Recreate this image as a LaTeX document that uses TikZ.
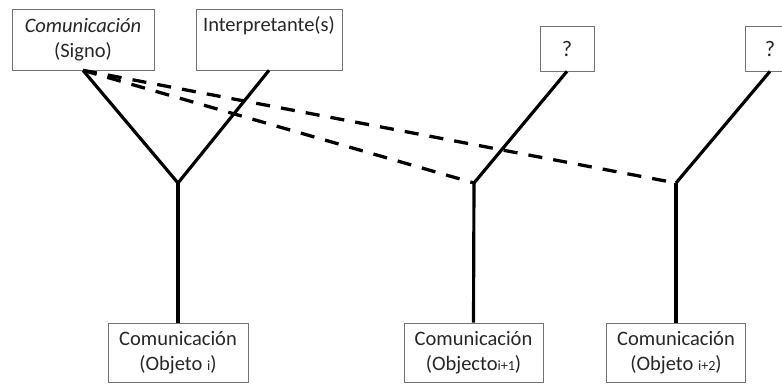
\documentclass[tikz,border=0pt]{standalone}
\usepackage{fontspec}
\setmainfont{Carlito}
\newcommand{\idx}[1]{{\fontsize{12}{14}\selectfont #1}}
\begin{document}
\begin{tikzpicture}[x=0.03cm,y=-0.03cm,
    box/.style={draw=black!55,line width=0.6pt,align=center,inner sep=0pt,
      font=\fontsize{17.5}{21}\selectfont,text=black!85},
    link/.style={line width=2.7pt},
    guess/.style={line width=2.8pt,dash pattern=on 12pt off 9.5pt}]
        \useasboundingbox (0,0) rectangle (782,383);
        % signs on top
        \node[box,minimum width=4.26cm,minimum height=1.83cm] (signo) at (83,39.5) {\textit{Comunicación}\\(Signo)};
        \node[box,minimum width=4.38cm,minimum height=1.83cm] (interp) at (269,39.5) {Interpretante(s)\\\strut};
        \node[box,minimum width=1.62cm,minimum height=1.35cm] (q1) at (567,48.5) {\fontsize{19}{21}\selectfont ?};
        \node[box,minimum width=1.5cm,minimum height=1.35cm] (q2) at (770,48.5) {\fontsize{19}{21}\selectfont ?};
        % objects below
        \node[box,minimum width=4.2cm,minimum height=1.77cm] (obj1) at (178,352.5) {Comunicación\\(Objeto \idx{i})};
        \node[box,minimum width=4.17cm,minimum height=1.77cm] (obj2) at (473.5,352.5) {Comunicación\\(Objecto\idx{i+1})};
        \node[box,minimum width=4.17cm,minimum height=1.77cm] (obj3) at (676,352.5) {Comunicación\\(Objeto \idx{i+2})};
        \coordinate (Y1) at (178,183);
        \coordinate (Y2) at (474,183);
        \coordinate (Y3) at (676,183);
        \draw[link] (signo.south) to (Y1);
        \draw[link] (interp.south) to (Y1);
        \draw[link] (Y1) to (obj1.north);
        \draw[link] (q1.south) to (Y2);
        \draw[link] (Y2) to (obj2.north);
        \draw[link] (q2.south) to (Y3);
        \draw[link] (Y3) to (obj3.north);
        \draw[guess] (signo.south) to (Y2);
        \draw[guess] (signo.south) to (Y3);
    \end{tikzpicture}
\end{document}
